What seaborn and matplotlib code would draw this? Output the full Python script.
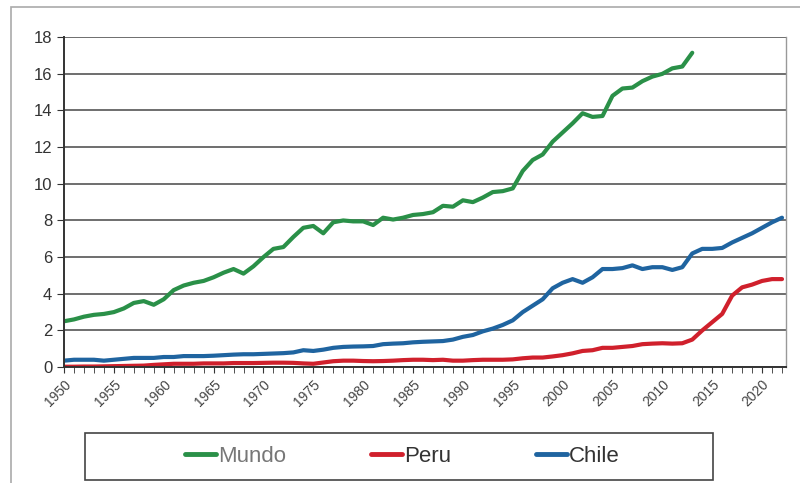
import numpy as np
import pandas as pd
import matplotlib
matplotlib.use('Agg')
import matplotlib.pyplot as plt
import seaborn as sns
from matplotlib.patches import Rectangle
from matplotlib.ticker import MultipleLocator

# ---- data ----
years_mundo = list(range(1950, 2014))
mundo = [2.5, 2.6, 2.75, 2.85, 2.9, 3.0, 3.2, 3.5, 3.6, 3.4,
         3.7, 4.2, 4.45, 4.6, 4.7, 4.9, 5.15, 5.35, 5.1, 5.5,
         6.0, 6.45, 6.55, 7.1, 7.6, 7.7, 7.3, 7.9, 8.0, 7.95,
         7.95, 7.75, 8.15, 8.05, 8.15, 8.3, 8.35, 8.45, 8.8, 8.75,
         9.1, 9.0, 9.25, 9.55, 9.6, 9.75, 10.7, 11.3, 11.6, 12.3,
         12.8, 13.3, 13.85, 13.65, 13.7, 14.8, 15.2, 15.25, 15.6, 15.85,
         16.0, 16.3, 16.4, 17.15]

years_pc = list(range(1950, 2023))
peru = [0.02, 0.02, 0.03, 0.03, 0.04, 0.05, 0.06, 0.07, 0.08, 0.12,
        0.15, 0.18, 0.18, 0.18, 0.2, 0.2, 0.2, 0.22, 0.22, 0.22,
        0.23, 0.24, 0.24, 0.23, 0.2, 0.18, 0.25, 0.32, 0.35, 0.35,
        0.33, 0.32, 0.33, 0.35, 0.38, 0.4, 0.4, 0.38, 0.4, 0.35,
        0.35, 0.38, 0.4, 0.4, 0.4, 0.42, 0.48, 0.52, 0.52, 0.58,
        0.65, 0.75, 0.88, 0.92, 1.05, 1.05, 1.1, 1.15, 1.25, 1.28,
        1.3, 1.28, 1.3, 1.5, 2.0, 2.45, 2.9, 3.9, 4.35, 4.5,
        4.7, 4.8, 4.8]
chile = [0.35, 0.4, 0.4, 0.4, 0.35, 0.4, 0.45, 0.5, 0.5, 0.5,
         0.55, 0.55, 0.6, 0.6, 0.6, 0.62, 0.65, 0.68, 0.7, 0.7,
         0.72, 0.74, 0.76, 0.8, 0.92, 0.88, 0.95, 1.05, 1.1, 1.12,
         1.13, 1.15, 1.25, 1.28, 1.3, 1.35, 1.38, 1.4, 1.42, 1.5,
         1.65, 1.75, 1.95, 2.1, 2.3, 2.55, 3.0, 3.35, 3.7, 4.3,
         4.6, 4.8, 4.6, 4.9, 5.35, 5.35, 5.4, 5.55, 5.35, 5.45,
         5.45, 5.3, 5.45, 6.2, 6.45, 6.45, 6.5, 6.8, 7.05, 7.3,
         7.6, 7.9, 8.15]

series_names = ['Mundo', 'Peru', 'Chile']
series_colors = ['#2a9048', '#d0202c', '#1f64a0']
label_colors = ['#777777', '#333333', '#333333']

df = pd.concat([
    pd.DataFrame({'year': years_mundo, 'value': mundo, 'serie': 'Mundo'}),
    pd.DataFrame({'year': years_pc, 'value': peru, 'serie': 'Peru'}),
    pd.DataFrame({'year': years_pc, 'value': chile, 'serie': 'Chile'}),
])

# ---- figure ----
sns.set_style('white')
plt.rcParams['font.family'] = ['Liberation Sans', 'DejaVu Sans']

fig = plt.figure(figsize=(8, 4.83), dpi=100)
ax = fig.add_axes([0.08, 0.24, 0.9025, 0.683])

sns.lineplot(data=df, x='year', y='value', hue='serie', hue_order=series_names,
             palette=series_colors, linewidth=3, ax=ax, legend=False)

ax.set_xlim(1950, 2022.4)
ax.set_ylim(0, 18)
ax.yaxis.set_major_locator(MultipleLocator(2))
ax.set_xticks(range(1950, 2021, 5))
ax.xaxis.set_minor_locator(MultipleLocator(1))
ax.set_xlabel('')
ax.set_ylabel('')
ax.grid(axis='y', color='#555555', linewidth=1.2)
ax.grid(axis='x', visible=False)
ax.set_axisbelow(True)

for side in ['left', 'bottom']:
    ax.spines[side].set_color('#333333')
    ax.spines[side].set_linewidth(1.4)
ax.spines['top'].set_visible(False)
ax.spines['right'].set_color('#999999')
ax.spines['right'].set_linewidth(1.0)

ax.tick_params(axis='y', labelsize=12, labelcolor='#333333', length=5,
               color='#333333', left=True, direction='out')
ax.tick_params(axis='x', which='both', bottom=True, direction='out',
               color='#333333', length=4)
plt.setp(ax.get_xticklabels(), rotation=45, ha='right', rotation_mode='anchor',
         fontsize=10, color='#444444')

# framed legend box below the chart
fig.patches.append(Rectangle((0.1065, 0.006), 0.785, 0.0975, transform=fig.transFigure,
                             fill=False, edgecolor='#444444', linewidth=1.2))
handles = [plt.Line2D([], [], color=c, linewidth=3.5) for c in series_colors]
leg = fig.legend(handles, series_names, loc='center',
                 bbox_to_anchor=(0.503, 0.055), ncol=3, frameon=False,
                 handlelength=1.4, handletextpad=0.1, columnspacing=3.8,
                 fontsize=16)
for t, c in zip(leg.get_texts(), label_colors):
    t.set_color(c)

# outer border of the chart area
fig.patches.append(Rectangle((0.014, -0.05), 1.1, 1.036, transform=fig.transFigure,
                             fill=False, edgecolor='#aaaaaa', linewidth=1.2))

fig.savefig('out.png', dpi=100)
